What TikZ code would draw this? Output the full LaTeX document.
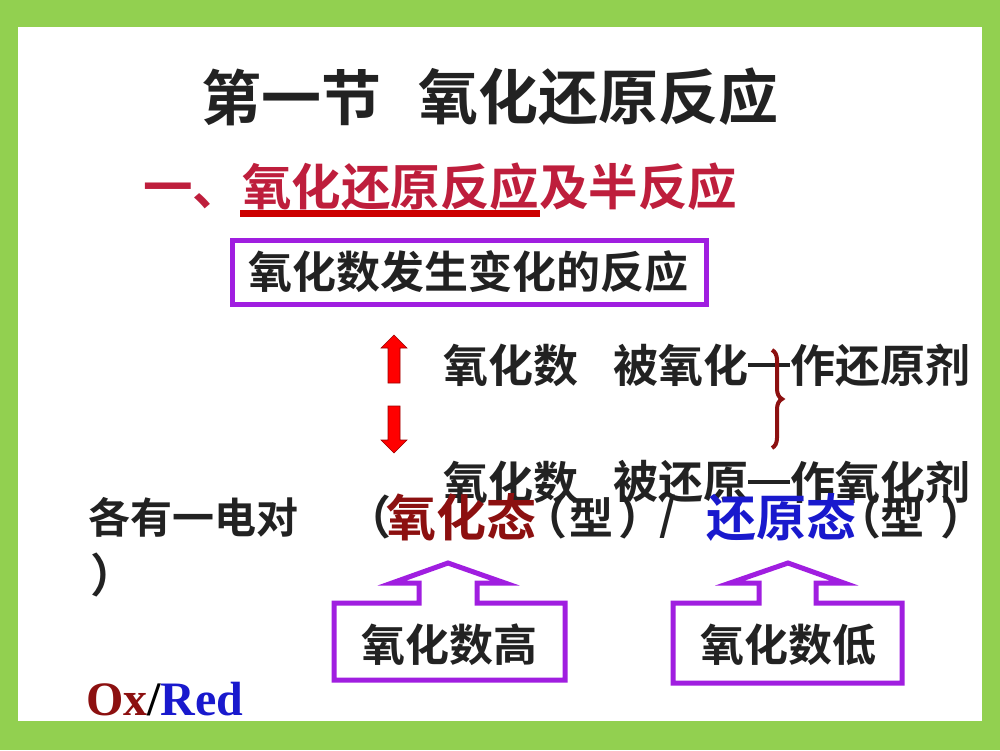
\documentclass[tikz,border=0pt]{standalone}
\usepackage{fontspec}
\newfontfamily\cjk{Noto Sans CJK SC Bold}
\newfontfamily\tnr{Liberation Serif}
\usetikzlibrary{decorations.pathreplacing}
\definecolor{framegreen}{RGB}{146,208,80}
\definecolor{boxpurple}{RGB}{160,30,224}
\definecolor{subred}{RGB}{190,30,60}
\definecolor{ulred}{RGB}{204,0,0}
\definecolor{oxred}{RGB}{140,16,16}
\definecolor{redblue}{RGB}{25,25,205}
\definecolor{txt}{RGB}{34,34,34}
\tikzset{
  t/.style={inner sep=0pt, text=txt, font=\cjk\fontsize{#1}{#1}\selectfont},
  callout/.style={draw=boxpurple, line width=5pt, line join=miter},
  redarrow/.style={fill=red, draw=red!60!black, line width=0.6pt},
}
\begin{document}
\begin{tikzpicture}[x=1pt,y=-1pt]
\useasboundingbox (0,0) rectangle (1000,750);
\fill[framegreen] (0,0) rectangle (1000,750);
\fill[white] (18,27) rectangle (982,721);

% title
\node[t=60, anchor=west] (t1) at (201,97) {第一节};
\node[t=60, anchor=west] (t2) at (418,97) {氧化还原反应};

% subtitle
\node[t=49.5, anchor=west, text=subred] (sub) at (143,187) {一、氧化还原反应及半反应};
\draw[ulred, line width=7pt] (240,213) -- (540,213);

% definition box
\draw[boxpurple, line width=5pt] (232,240) rectangle (706,304);
\node[t=44, anchor=west] (def) at (248,272) {氧化数发生变化的反应};

% red arrows
\draw[redarrow] (388,383) -- (388,348) -- (381,348) -- (394,335) -- (407,348) -- (400,348) -- (400,383) -- cycle;
\draw[redarrow] (388,406) -- (400,406) -- (400,440) -- (407,440) -- (394,453) -- (381,440) -- (388,440) -- cycle;

% lines
\node[t=45, anchor=west] (a1) at (443,365) {氧化数};
\node[t=45, anchor=west] (b1) at (613,365) {被氧化};
\node[t=45, anchor=west] (c1) at (790,365) {作还原剂};
\node[t=45, anchor=west] (a2) at (443,482) {氧化数};
\node[t=45, anchor=west] (b2) at (613,482) {被还原};
\node[t=45, anchor=west] (c2) at (790,482) {作氧化剂};
\draw[txt, line width=3.5pt] (b1.east) -- (c1.west);
\draw[txt, line width=3.5pt] (b2.east) -- (c2.west);

% brace
\draw[oxred, line width=4pt, decorate, decoration={brace, amplitude=10pt}] (772,350) -- (772,448);

% pair line
\node[t=42, anchor=west] (p1) at (88,517) {各有一电对};
\node[t=46, anchor=east] (p2) at (392,517) {（};
\node[t=50, anchor=west, text=oxred] (ox) at (386,517) {氧化态};
\node[t=46, anchor=east] (p3) at (568,517) {（};
\node[t=44, anchor=center] (p4) at (591,517) {型};
\node[t=46, anchor=west] (p5) at (618,517) {）};
\node[t=44, anchor=center] (p6) at (668,517) {/};
\node[t=50, anchor=west, text=redblue] (rd) at (706,517) {还原态};
\node[t=46, anchor=east] (p7) at (882,517) {（};
\node[t=44, anchor=center] (p8) at (902,517) {型};
\node[t=46, anchor=west] (p9) at (940,517) {）};
\node[t=46, anchor=west] (p10) at (90,575) {）};

% callouts
\draw[callout] (334,603) -- (419,603) -- (419,583) -- (392,583) -- (448,563) -- (505,583) -- (477,583) -- (477,603) -- (565,603) -- (565,680) -- (334,680) -- cycle;
\node[t=44] (hi) at (449,645) {氧化数高};
\draw[callout] (673,603) -- (759,603) -- (759,583) -- (730,583) -- (788,563) -- (844,583) -- (816,583) -- (816,603) -- (902,603) -- (902,683) -- (673,683) -- cycle;
\node[t=44] (lo) at (788,645) {氧化数低};

% Ox/Red
\node[inner sep=0pt, anchor=base west, font=\tnr\bfseries\fontsize{48}{48}\selectfont] (oxr) at (86,715) {\textcolor{oxred}{Ox}/\textcolor{redblue}{Red}};
\end{tikzpicture}
\end{document}
